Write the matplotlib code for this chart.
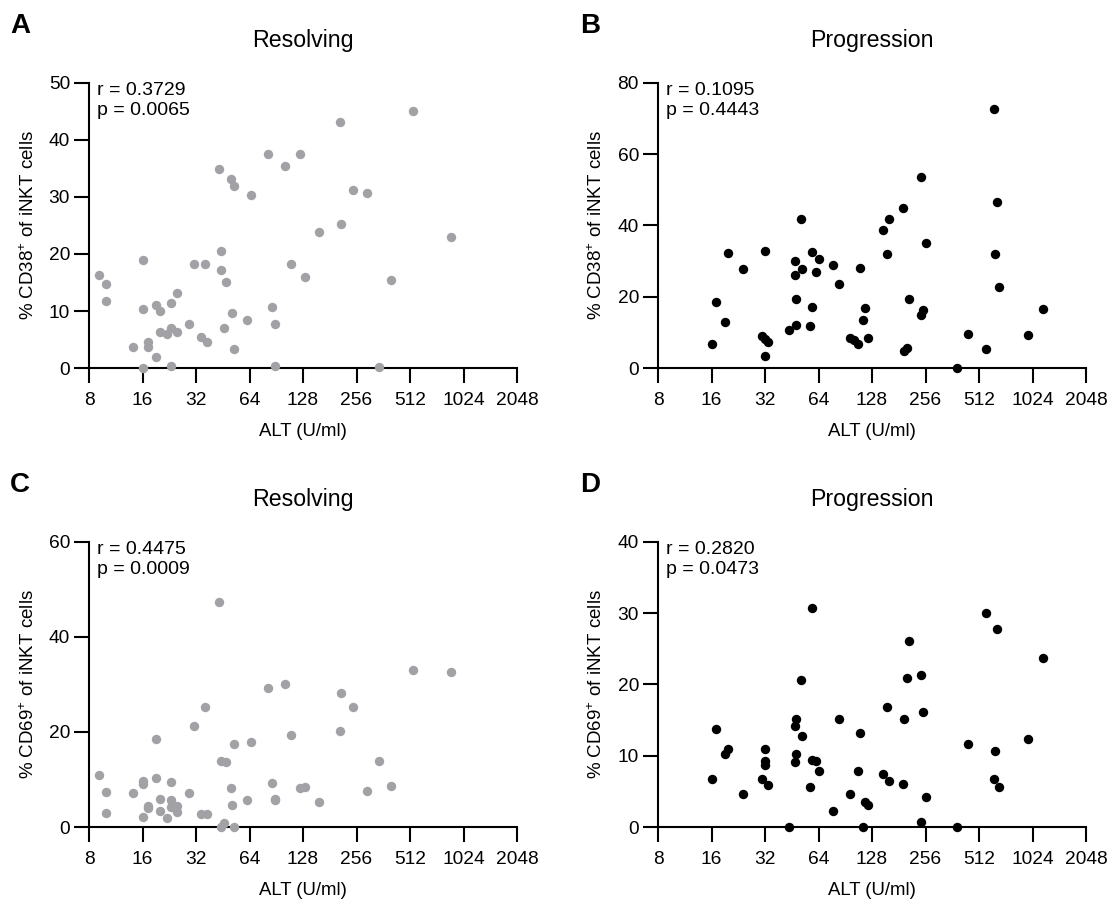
import matplotlib
matplotlib.use('Agg')
import matplotlib.pyplot as plt

plt.rcParams['font.family'] = ['Liberation Sans', 'DejaVu Sans']
plt.rcParams['mathtext.fontset'] = 'custom'
plt.rcParams['mathtext.rm'] = 'Liberation Sans'
plt.rcParams['mathtext.it'] = 'Liberation Sans:italic'

# ---- data ----
alt_res = [9.1, 10.0, 10.0, 16.1, 16.1, 16.1, 14.1, 17.1, 17.1, 19.1, 19.1, 20.1, 20.1, 22.0,
           23.2, 23.2, 23.2, 24.9, 24.9, 29.1, 31.1, 34.1, 36.1, 37.1, 43.2, 44.2, 44.2, 46.1,
           47.2, 50.1, 51.3, 52.3, 52.3, 61.7, 65.2, 81.3, 85.3, 89.3, 89.3, 101.1, 109.9,
           123.3, 131.0, 158.3, 206.1, 209.9, 243.3, 291.3, 344, 398.8, 533.8, 871]
cd38_res = [16.4, 14.7, 11.7, 19.0, 10.3, 0, 3.7, 4.5, 3.7, 2.0, 11.0, 10.0, 6.4, 6.0,
            7.0, 11.4, 0.35, 13.1, 6.25, 7.7, 18.3, 5.5, 18.2, 4.6, 34.9, 20.5, 17.2, 7.1,
            15.1, 33.2, 9.7, 31.9, 3.4, 8.5, 30.4, 37.5, 10.7, 7.7, 0.35, 35.4, 18.3,
            37.5, 15.9, 23.9, 43.2, 25.2, 31.2, 30.7, 0.2, 15.5, 45.1, 23.0]
cd69_res = [11.0, 7.4, 3.0, 9.6, 9.1, 2.2, 7.2, 4.5, 4.0, 18.5, 10.3, 6.0, 3.3, 2.0,
            9.5, 5.6, 4.3, 4.4, 3.2, 7.1, 21.3, 2.7, 25.3, 2.7, 47.4, 13.8, 0, 0.8,
            13.7, 8.3, 4.7, 17.5, 0, 5.7, 17.8, 29.3, 9.3, 5.6, 5.8, 30.2, 19.4,
            8.3, 8.4, 5.2, 20.3, 28.2, 25.3, 7.6, 13.8, 8.7, 33.1, 32.7]

alt_prog_b = [16, 17.0, 19.0, 19.9, 24.0, 30.8, 32, 32, 32, 33.1, 43.9, 47.1, 47.1, 48.0,
              48.0, 51.0, 52.0, 57.1, 59.1, 59.1, 61.9, 64, 77.3, 83.3, 96.0, 101.1, 106.5,
              110.1, 113.2, 116.4, 121, 146.8, 155.3, 159, 190.2, 192.9, 202.2, 206.1,
              240.8, 240.8, 247.7, 258.4, 385.8, 444.7, 562.7, 624, 630, 645, 666.6, 972, 1168]
cd38_prog = [6.8, 18.6, 13.0, 32.2, 27.9, 9.1, 32.8, 3.3, 8.1, 7.4, 10.8, 30.1, 26.0, 19.5,
             12.1, 41.9, 27.7, 11.7, 32.5, 17.2, 27.0, 30.7, 28.9, 23.5, 8.3, 7.9, 6.6,
             28.1, 13.6, 16.8, 8.5, 38.7, 32.1, 41.7, 44.8, 4.9, 5.6, 19.3,
             53.6, 14.9, 16.4, 35.2, 0, 9.5, 5.2, 72.8, 32.0, 46.6, 22.8, 9.2, 16.7]

alt_prog_d = [16, 17.0, 19.0, 19.9, 24.0, 30.8, 32, 32, 32, 33.1, 43.9, 47.1, 47.1, 48.0,
              48.0, 51.0, 52.0, 57.1, 59.1, 59.1, 61.9, 64, 77.3, 83.3, 96.0, 106.5,
              110.1, 113.2, 116.4, 121, 146.8, 155.3, 159, 190.2, 192.9, 202.2, 206.1,
              240.8, 240.8, 247.7, 258.4, 385.8, 444.7, 562.7, 624, 630, 645, 666.6, 972, 1168]
cd69_prog = [6.7, 13.7, 10.2, 10.9, 4.6, 6.8, 10.9, 9.2, 8.7, 5.9, 0, 14.2, 9.1, 15.1,
             10.3, 20.7, 12.8, 5.6, 30.7, 9.4, 9.2, 7.9, 2.3, 15.1, 4.6, 7.9,
             13.2, 0, 3.5, 3.1, 7.5, 16.8, 6.4, 6.1, 15.2, 20.9, 26.1,
             21.4, 0.75, 16.2, 4.2, 0, 11.6, 30.1, 6.8, 10.6, 27.8, 5.6, 12.3, 23.7]

x_ticks = [8, 16, 32, 64, 128, 256, 512, 1024, 2048]
GREY = '#a2a2a6'

panels = [
    # letter, title, x, y, colour, ymax, ystep, ylabel, stats, rect
    ('A', 'Resolving', alt_res, cd38_res, GREY, 50, 10, '% CD38$^{+}$ of iNKT cells',
     'r = 0.3729\np = 0.0065', [0.0802, 0.5911, 0.3856, 0.3167]),
    ('B', 'Progression', alt_prog_b, cd38_prog, 'black', 80, 20, '% CD38$^{+}$ of iNKT cells',
     'r = 0.1095\np = 0.4443', [0.5928, 0.5911, 0.3856, 0.3167]),
    ('C', 'Resolving', alt_res, cd69_res, GREY, 60, 20, '% CD69$^{+}$ of iNKT cells',
     'r = 0.4475\np = 0.0009', [0.0802, 0.0811, 0.3856, 0.3167]),
    ('D', 'Progression', alt_prog_d, cd69_prog, 'black', 40, 10, '% CD69$^{+}$ of iNKT cells',
     'r = 0.2820\np = 0.0473', [0.5928, 0.0811, 0.3856, 0.3167]),
]

fig = plt.figure(figsize=(11.1, 9), dpi=100)

for letter, title, xs, ys, col, ymax, ystep, ylab, stats, rect in panels:
    ax = fig.add_axes(rect)
    ax.scatter(xs, ys, s=46, color=col, linewidths=0, clip_on=False, zorder=3)
    ax.set_xscale('log', base=2)
    ax.set_xlim(8, 2048)
    ax.set_xticks(x_ticks)
    ax.set_xticklabels([str(t) for t in x_ticks])
    ax.minorticks_off()
    ax.set_ylim(0, ymax)
    ax.set_yticks(range(0, ymax + 1, ystep))
    for s in ['top', 'right']:
        ax.spines[s].set_visible(False)
    for s in ['left', 'bottom']:
        ax.spines[s].set_linewidth(1.5)
    ax.tick_params(length=10.5, width=1.5, labelsize=13.8)
    ax.tick_params(axis='x', pad=6.5)
    ax.tick_params(axis='y', pad=3.2)
    ax.set_xlabel('ALT (U/ml)', fontsize=13.4, labelpad=10.5)
    ax.set_ylabel(ylab, fontsize=13.5, labelpad=8)
    ax.set_title(title, fontsize=16.7, pad=26)
    ax.text(0.019, 1.004, stats, transform=ax.transAxes, va='top', ha='left',
            fontsize=14, linespacing=1.26)
    fig.text(0.009 if rect[0] < 0.5 else 0.5225, rect[1] + rect[3] + 0.063, letter,
             fontsize=20, fontweight='bold', va='center', ha='left')

fig.savefig('out.png', dpi=100)
